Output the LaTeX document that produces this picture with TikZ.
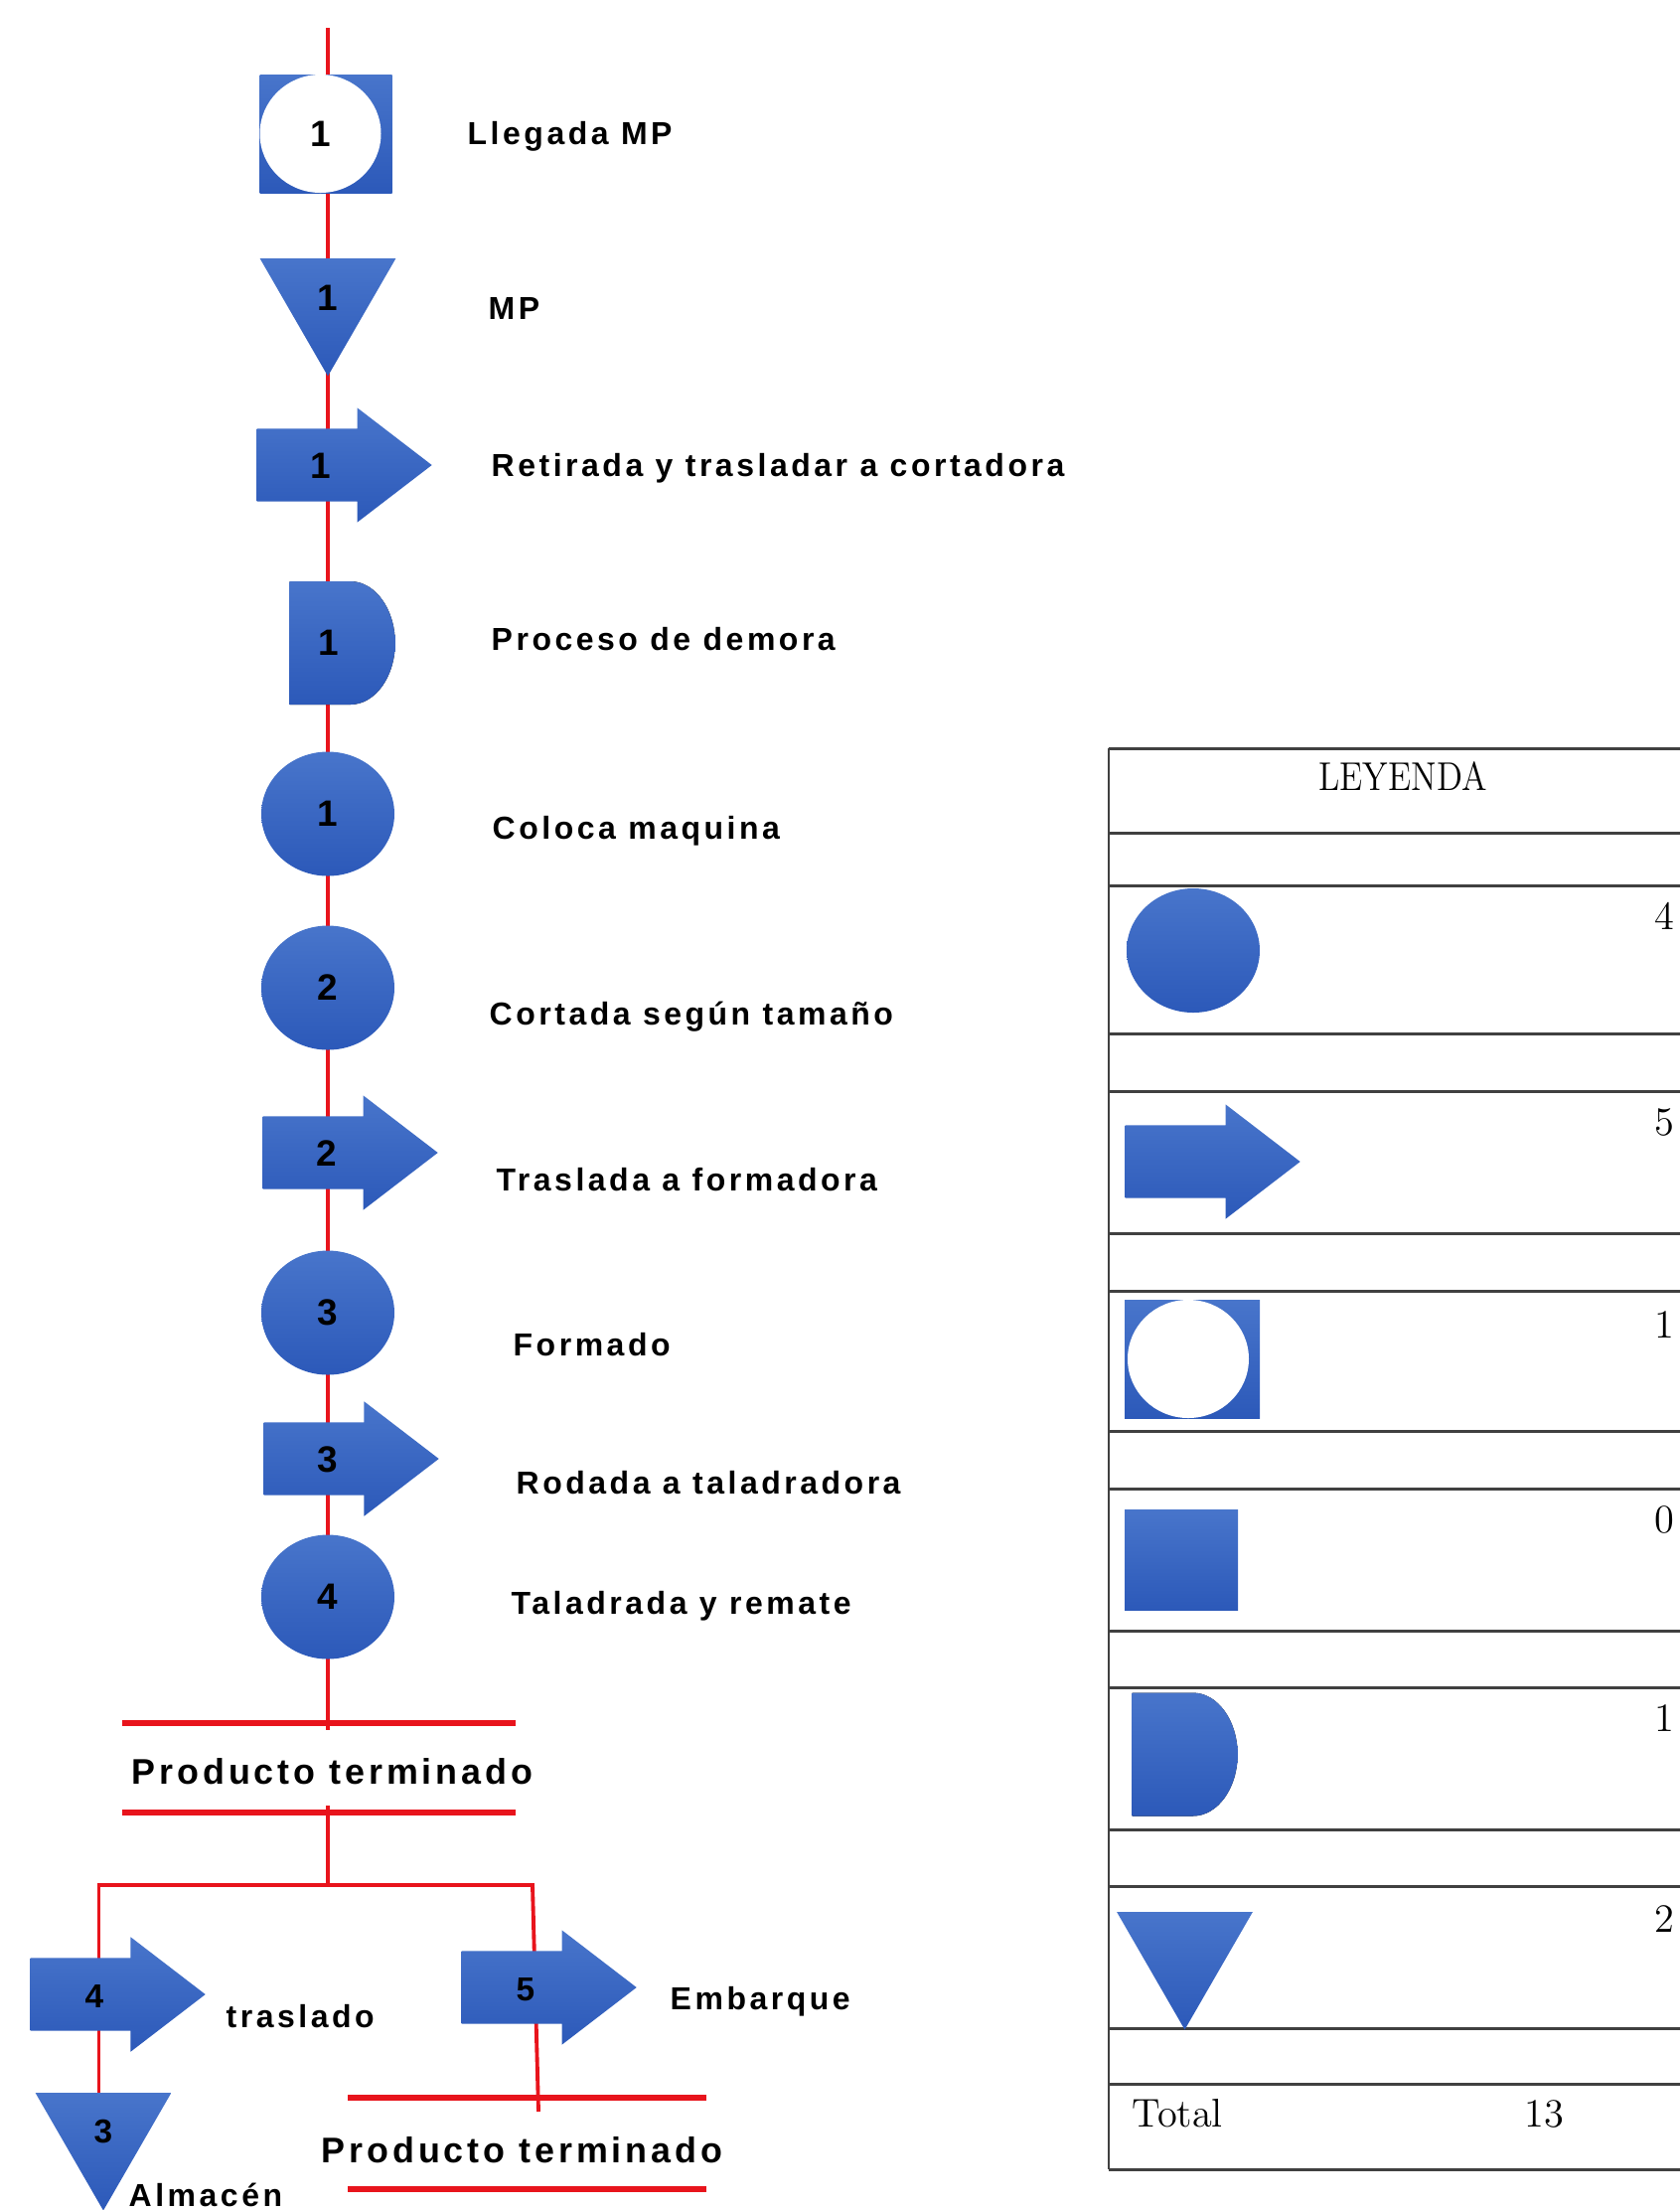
\documentclass[tikz,border=0pt]{standalone}
\usepackage{fontspec}
\usetikzlibrary{shapes.geometric}
\usetikzlibrary{shapes.arrows}
\usetikzlibrary{backgrounds}
\newfontfamily\lblfont[LetterSpace=11]{Liberation Sans}
\newfontfamily\numfont{Liberation Sans}
\definecolor{blueA}{RGB}{72,117,203}
\definecolor{blueB}{RGB}{44,89,185}
\definecolor{linered}{RGB}{232,20,28}
\tikzset{
    blueshape/.style = {top color=blueA, bottom color=blueB, draw=none, inner sep=0pt, text=black},
    numfnt/.style = {font=\numfont\bfseries\fontsize{10.5}{12}\selectfont},
    numsmall/.style = {font=\numfont\bfseries\fontsize{9.5}{11}\selectfont},
    opnode/.style = {ellipse, blueshape, numfnt, minimum width=1.34cm, minimum height=1.25cm},
    trnode/.style = {single arrow, blueshape, numfnt, minimum height=1.76cm, minimum width=1.14cm,
        single arrow head extend=0.21cm, single arrow tip angle=75,
        text height=0.265cm, text depth=0cm, inner ysep=0.2275cm},
    demnode/.style = {rectangle, numfnt, inner sep=0pt, text=black, minimum width=1.06cm, minimum height=1.24cm,
        text width=0.49cm, align=left,
        path picture={\fill[top color=blueA, bottom color=blueB] (path picture bounding box.north west)
            -- ([xshift=-4.5mm]path picture bounding box.north east)
            arc[start angle=90, end angle=-90, x radius=4.5mm, y radius=6.2mm]
            -- (path picture bounding box.south west) -- cycle;}},
    almnode/.style = {regular polygon, regular polygon sides=3, shape border rotate=180, blueshape, numfnt, minimum size=1.58cm},
    combnode/.style = {rectangle, blueshape, minimum width=1.33cm, minimum height=1.19cm},
    combin/.style = {ellipse, fill=white, inner sep=0pt, numfnt, minimum width=1.22cm, minimum height=1.19cm},
    insnode/.style = {rectangle, blueshape, minimum width=1.14cm, minimum height=1.01cm},
    lbl/.style = {font=\lblfont\bfseries\fontsize{9.1}{11}\selectfont, inner sep=0pt, anchor=base west},
    ptlbl/.style = {font=\lblfont\bfseries\fontsize{10.2}{12}\selectfont, inner sep=0pt, anchor=base west},
    tabtxt/.style = {font=\fontsize{11.5}{13}\selectfont, inner sep=0pt},
    edger/.style = {-, line width=1.1pt, linered},
    barr/.style = {-, line width=1.5pt, linered},
    tabline/.style = {-, line width=0.85pt, black!75}
}

\begin{document}
\begin{tikzpicture}
\useasboundingbox (0,0) rectangle (16.91,-22.24);
% diagrama de proceso
\coordinate (top) at (3.30,-0.28);
\node[combnode] at (3.28,-1.345) (c1) {};
\node[combin] at (3.225,-1.345) (c1n) {1};
\node[almnode] at (3.30,-2.995) (alm1) {1};
\node[trnode, anchor=tail] at (2.58,-4.68) (tr1) {1};
\node[demnode, anchor=west] at (2.91,-6.47) (dem1) {1};
\node[opnode] at (3.30,-8.19) (op1) {1};
\node[opnode] at (3.30,-9.94) (op2) {2};
\node[trnode, anchor=tail] at (2.64,-11.60) (tr2) {2};
\node[opnode] at (3.30,-13.21) (op3) {3};
\node[trnode, anchor=tail] at (2.65,-14.68) (tr3) {3};
\node[opnode] at (3.30,-16.07) (op4) {4};
%
\node[lbl] at (4.70,-1.45) (l1) {Llegada MP};
\node[lbl] at (4.91,-3.21) (l2) {MP};
\node[lbl] at (4.94,-4.79) (l3) {Retirada y trasladar a cortadora};
\node[lbl] at (4.94,-6.54) (l4) {Proceso de demora};
\node[lbl] at (4.95,-8.44) (l5) {Coloca maquina};
\node[lbl] at (4.92,-10.31) (l6) {Cortada según tamaño};
\node[lbl] at (4.99,-11.98) (l7) {Traslada a formadora};
\node[lbl] at (5.16,-13.64) (l8) {Formado};
\node[lbl] at (5.19,-15.03) (l9) {Rodada a taladradora};
\node[lbl] at (5.14,-16.24) (l10) {Taladrada y remate};
% producto terminado y salidas
\coordinate (b1) at (3.30,-17.41);
\coordinate (b2) at (3.30,-18.17);
\coordinate (jn) at (3.30,-18.97);
\coordinate (jl) at (0.995,-18.97);
\coordinate (jr) at (5.36,-18.97);
\coordinate (e5) at (5.42,-21.25);
\node[ptlbl] at (1.32,-17.95) (pt1) {Producto terminado};
\draw[barr] (1.23,-17.34) -- (5.19,-17.34);
\draw[barr] (1.23,-18.24) -- (5.19,-18.24);
\node[trnode, numsmall, anchor=tail] at (0.30,-20.07) (tr4) {4};
\node[almnode, numsmall] at (1.04,-21.455) (alm3) {3};
\node[trnode, numsmall, anchor=tail] at (4.64,-20.00) (tr5) {5};
\node[lbl] at (2.27,-20.40) (l11) {traslado};
\node[lbl] at (6.74,-20.22) (l12) {Embarque};
\node[lbl] at (1.29,-22.20) (l13) {Almacén};
\node[ptlbl] at (3.23,-21.76) (pt2) {Producto terminado};
\draw[barr] (3.50,-21.11) -- (7.11,-21.11);
\draw[barr] (3.50,-22.03) -- (7.11,-22.03);
%
\begin{scope}[on background layer]
\draw[edger] (top) -- (c1.center -| top) -- (alm1.center) -- (tr1.center -| top) -- (dem1.center -| top)
    -- (op1.center) -- (op2.center) -- (tr2.center -| top) -- (op3.center) -- (tr3.center -| top)
    -- (op4.center) -- (b1);
\draw[edger] (b2) -- (jn) -- (jl) -- (tr4.center -| jl) -- (alm3.center -| jl);
\draw[edger] (jn) -- (jr) -- (e5);
\end{scope}
% leyenda
\draw[tabline] (11.16,-7.53) -- (11.16,-21.83);
\draw[tabline] (11.16,-7.53) -- (16.91,-7.53) (11.16,-8.38) -- (16.91,-8.38)
    (11.16,-8.91) -- (16.91,-8.91) (11.16,-10.40) -- (16.91,-10.40)
    (11.16,-10.98) -- (16.91,-10.98) (11.16,-12.41) -- (16.91,-12.41)
    (11.16,-12.99) -- (16.91,-12.99) (11.16,-14.40) -- (16.91,-14.40)
    (11.16,-14.98) -- (16.91,-14.98) (11.16,-16.41) -- (16.91,-16.41)
    (11.16,-16.98) -- (16.91,-16.98) (11.16,-18.41) -- (16.91,-18.41)
    (11.16,-18.98) -- (16.91,-18.98) (11.16,-20.41) -- (16.91,-20.41)
    (11.16,-20.97) -- (16.91,-20.97) (11.16,-21.83) -- (16.91,-21.83);
\node[tabtxt] at (14.12,-7.815) (ley) {\scalebox{0.86}[1]{LEYENDA}};
\node[opnode] at (12.01,-9.565) (lop) {};
\node[trnode, anchor=tail] at (11.32,-11.69) (ltr) {};
\node[combnode, minimum width=1.36cm] at (12.00,-13.675) (lcomb) {};
\node[combin] at (11.96,-13.675) (lcombn) {};
\node[insnode] at (11.89,-15.695) (lins) {};
\node[demnode, anchor=west] at (11.39,-17.655) (ldem) {};
\node[almnode] at (11.925,-19.635) (lalm) {};
\node[tabtxt, anchor=east] at (16.86,-9.22) (nop) {4};
\node[tabtxt, anchor=east] at (16.86,-11.29) (ntr) {5};
\node[tabtxt, anchor=east] at (16.86,-13.33) (ncomb) {1};
\node[tabtxt, anchor=east] at (16.86,-15.29) (nins) {0};
\node[tabtxt, anchor=east] at (16.86,-17.29) (ndem) {1};
\node[tabtxt, anchor=east] at (16.86,-19.31) (nalm) {2};
\node[tabtxt, anchor=west] at (11.39,-21.27) (tot) {Total};
\node[tabtxt] at (15.54,-21.27) (ntot) {13};
\end{tikzpicture}
\end{document}
